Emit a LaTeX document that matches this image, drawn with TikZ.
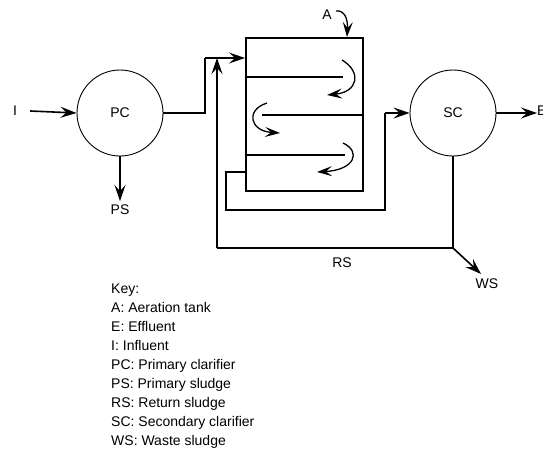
\documentclass[tikz,border=0pt]{standalone}
\usepackage{fontspec}
\setmainfont{Liberation Sans}
\usetikzlibrary{arrows.meta}
\begin{document}
\begin{tikzpicture}[x=1pt,y=-1pt,
  every node/.style={font=\fontsize{14pt}{19pt}\selectfont, inner sep=0pt},
  flow/.style={line width=1.6pt, -{Stealth[length=16pt,width=11pt,inset=6pt]}},
  swirl/.style={line width=1.3pt, -{Stealth[length=15pt,width=10pt,inset=6pt]}},
  pipe/.style={line width=1.6pt},
  clar/.style={circle, draw, line width=0.9pt, minimum size=86pt}]
\useasboundingbox (0,0) rectangle (543,450);
% clarifiers
\node[clar] (pc) at (120,113) {PC};
\node[clar] (sc) at (453,113) {SC};
% tank
\node[draw, line width=1.6pt, minimum width=117pt, minimum height=153pt, anchor=north west] (tank) at (245,37) {};
\draw[pipe] (245,77) -- (343,77);
\draw[pipe] (262,115) -- (362,115);
\draw[pipe] (245,155) -- (345,155);
\draw[swirl] (342,60) .. controls (362,72) and (358,92) .. (327,95);
\draw[swirl] (267,103) .. controls (245,110) and (250,131) .. (280,133);
\draw[swirl] (343,143) .. controls (362,152) and (354,170) .. (317,172);
% labels
\node (i) at (15,111) {I};
\node (ps) at (120,210) {PS};
\node[anchor=west] (e) at (537,111) {E};
\node (ws) at (487,284) {WS};
\node (rs) at (342,263) {RS};
\node (a) at (327,15) {A};
% coordinates
\coordinate (j1) at (205,113);
\coordinate (j2) at (205,58);
\coordinate (tin) at (245,58);
\coordinate (rj) at (217,58);
\coordinate (tout) at (245,172);
\coordinate (t1) at (226,172);
\coordinate (t2) at (226,210);
\coordinate (t3) at (385,210);
\coordinate (t4) at (385,113);
\coordinate (s1) at (453,248);
\coordinate (s2) at (217,248);
\coordinate (wsend) at (481,274);
% connectors
\draw[flow] (i.east) ++(13,0) -- (pc.west);
\draw[flow] (pc.south) -- (120,201);
\draw[pipe] (pc.east) -- (j1) -- (j2);
\draw[flow] (j2) -- (tin);
\draw[pipe] (tout) -- (t1) -- (t2) -- (t3) -- (t4);
\draw[flow] (t4) -- (sc.west);
\draw[flow] (sc.east) -- (537,113);
\draw[pipe] (sc.south) -- (s1) -- (s2);
\draw[flow] (s2) -- (rj);
\draw[flow] (s1) -- (wsend);
\draw[swirl] (336,11) .. controls (344,10) and (348,18) .. (347,37);
% key
\node[anchor=north west, align=left] (key) at (111,284) {Key:\\A: Aeration tank\\E: Effluent\\I: Influent\\PC: Primary clarifier\\PS: Primary sludge\\RS: Return sludge\\SC: Secondary clarifier\\WS: Waste sludge};
\end{tikzpicture}
\end{document}
